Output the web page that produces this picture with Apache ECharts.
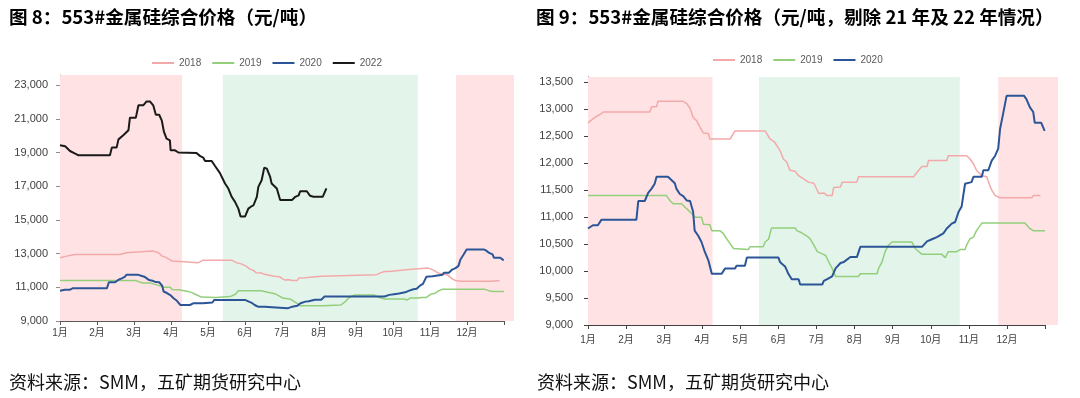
<!DOCTYPE html>
<html>
<head>
<meta charset="utf-8">
<script src="https://cdn.jsdelivr.net/npm/echarts@6/dist/echarts.min.js"></script>
<style>
html,body{margin:0;padding:0;background:#fff}
#main{width:1080px;height:398px}
</style>
</head>
<body>
<div id="main"></div>
<script>
// 553#金属硅综合价格 - 两张图（含 22 年 / 剔除 21、22 年）
// x 坐标为月份位置：0 = 1月初，1 = 2月初 ... 12 = 年末
const months = ['1月','2月','3月','4月','5月','6月','7月','8月','9月','10月','11月','12月'];
const monthTicks = [0,1,2,3,4,5,6,7,8,9,10,11,12];
const yTicksLeft = [9000,11000,13000,15000,17000,19000,21000,23000];
const yTicksRight = [9000,9500,10000,10500,11000,11500,12000,12500,13000,13500];

// [月份位置, 元/吨]
const price2018 = [[0,12750],[0.18,12850],[0.3,12900],[0.4,12950],[1.62,12950],[1.67,13050],[1.8,13050],[1.84,13150],[2.5,13150],[2.6,13100],[2.68,13020],[2.76,12850],[2.85,12790],[2.94,12670],[3.03,12560],[3.16,12550],[3.2,12450],[3.73,12450],[3.86,12600],[4.65,12600],[4.78,12450],[4.9,12390],[5.04,12240],[5.13,12080],[5.22,12020],[5.3,11870],[5.44,11850],[5.53,11770],[5.66,11710],[5.79,11650],[5.93,11630],[6.06,11440],[6.19,11450],[6.28,11400],[6.41,11400],[6.45,11550],[6.63,11560],[6.67,11650],[7.06,11650],[7.1,11750],[8.55,11750],[8.68,11870],[8.77,11940],[8.9,11940],[8.94,12050],[9.42,12050],[9.46,12140],[9.94,12140],[10.03,12080],[10.12,11990],[10.2,11870],[10.34,11770],[10.47,11750],[10.5,11680],[10.6,11500],[10.69,11400],[10.82,11360],[11.65,11360],[11.69,11400],[11.88,11400]];
const price2019 = [[0,11400],[2.06,11400],[2.15,11310],[2.24,11250],[2.46,11250],[2.54,11190],[2.63,11130],[2.72,11070],[2.81,11000],[2.98,11000],[3.03,10870],[3.2,10860],[3.25,10750],[3.46,10750],[3.55,10700],[3.64,10600],[3.73,10510],[3.82,10420],[3.86,10400],[4.21,10400],[4.25,10450],[4.6,10450],[4.65,10540],[4.74,10590],[4.82,10800],[5.44,10800],[5.48,10750],[5.61,10710],[5.75,10650],[5.83,10600],[5.93,10480],[6.02,10360],[6.15,10320],[6.24,10290],[6.32,10170],[6.41,10050],[6.5,9900],[7.1,9900],[7.15,9950],[7.59,9950],[7.63,10050],[7.72,10170],[7.8,10360],[7.89,10480],[7.98,10540],[8.5,10540],[8.59,10420],[8.77,10310],[9.29,10310],[9.38,10250],[9.46,10360],[9.68,10360],[9.77,10400],[9.9,10400],[9.94,10480],[10.03,10600],[10.12,10630],[10.2,10750],[10.34,10890],[11.47,10890],[11.6,10790],[11.69,10750],[12,10750]];
const price2020 = [[0,10790],[0.13,10850],[0.26,10850],[0.35,10950],[1.27,10950],[1.32,11300],[1.49,11300],[1.58,11450],[1.67,11530],[1.75,11620],[1.8,11750],[2.1,11750],[2.19,11690],[2.28,11630],[2.32,11530],[2.41,11430],[2.5,11390],[2.59,11310],[2.68,11300],[2.76,11100],[2.8,10750],[2.89,10660],[2.98,10540],[3.07,10350],[3.16,10200],[3.25,9950],[3.51,9950],[3.6,10050],[3.86,10050],[3.9,10100],[4.12,10100],[4.17,10250],[5,10250],[5.04,10170],[5.18,10080],[5.26,9950],[5.35,9850],[5.53,9850],[5.57,9750],[6.15,9750],[6.19,9820],[6.28,9850],[6.41,9900],[6.5,10050],[6.63,10150],[6.72,10170],[6.89,10260],[7.06,10260],[7.15,10450],[8.77,10450],[8.9,10550],[9.03,10590],[9.16,10630],[9.33,10700],[9.42,10790],[9.55,10880],[9.64,10910],[9.73,11100],[9.81,11200],[9.9,11620],[9.94,11650],[10.07,11650],[10.12,11750],[10.34,11750],[10.38,11870],[10.51,11870],[10.6,12050],[10.69,12140],[10.77,12270],[10.82,12640],[10.9,12920],[10.99,13250],[11.45,13250],[11.51,13190],[11.6,13040],[11.69,12950],[11.73,12750],[11.9,12750],[11.99,12600]];
const price2022 = [[0,19430],[0.14,19370],[0.27,19090],[0.41,18930],[0.5,18830],[1.35,18830],[1.4,19290],[1.53,19290],[1.58,19780],[1.71,20020],[1.85,20320],[1.89,21070],[2.05,21070],[2.12,21800],[2.25,21800],[2.34,22030],[2.43,22030],[2.52,21800],[2.59,21240],[2.68,21240],[2.75,20910],[2.81,20220],[2.88,19820],[2.97,19720],[2.99,19130],[3.11,19130],[3.2,19000],[3.24,18970],[3.69,18970],[3.78,18800],[3.87,18700],[3.92,18500],[4.1,18500],[4.19,18200],[4.32,17790],[4.46,17160],[4.55,16860],[4.64,16370],[4.73,16070],[4.82,15670],[4.88,15200],[5,15200],[5.09,15670],[5.15,15770],[5.23,15870],[5.32,16370],[5.36,16960],[5.45,17350],[5.52,18100],[5.59,18040],[5.68,17550],[5.72,17160],[5.86,16860],[5.95,16180],[6.27,16180],[6.36,16370],[6.45,16460],[6.49,16700],[6.67,16700],[6.76,16430],[6.85,16370],[7.1,16370],[7.2,16870]];

// 阴影区间（月份位置）
const pinkLeft = [[0,3.3],[10.7,12.27]];
const greenLeft = [[4.4,9.67]];
const pinkRight = [[0,3.27],[10.77,12.34]];
const greenRight = [[4.49,9.76]];

const colors = {'2018':'#F3A9A9','2019':'#93CF7B','2020':'#2C5597','2022':'#1A1A1A'};
const PINK = '#FFE3E4', GREEN = '#E3F5EB';
const numFont = "'Liberation Sans', 'Noto Sans CJK SC'";

const chart = echarts.init(document.getElementById('main'), null, {renderer:'canvas'});

function bands(pink, green, yMin, yMax){
    const out = [];
    pink.forEach(r => out.push([{xAxis:r[0], yAxis:yMin, itemStyle:{color:PINK}}, {xAxis:r[1], yAxis:yMax}]));
    green.forEach(r => out.push([{xAxis:r[0], yAxis:yMin, itemStyle:{color:GREEN}}, {xAxis:r[1], yAxis:yMax}]));
    return out;
}

function line(name, data, idx, width){
    return {
        name, type:'line', xAxisIndex:idx, yAxisIndex:idx,
        data, showSymbol:false, symbol:'none',
        lineStyle:{color:colors[name], width},
        itemStyle:{color:colors[name]},
        z:3
    };
}

function xAxisOf(idx, max, lineColor){
    return {
        type:'value', gridIndex:idx, min:0, max,
        axisLine:{show:false},
        axisTick:{show:true, customValues:monthTicks, length:4, lineStyle:{color:lineColor}},
        axisLabel:{customValues:monthTicks.slice(0,12), formatter:v => months[Math.round(v)] || '',
            color:'#404040', fontSize:10, fontFamily:numFont, margin: idx ? 10 : 7},
        splitLine:{show:false}
    };
}

function yAxisOf(idx, min, max, ticks, lineColor, margin){
    return {
        type:'value', gridIndex:idx, min, max,
        axisLine:{show:true, lineStyle:{color:lineColor}},
        axisTick:{show:true, customValues:ticks, length:4, lineStyle:{color:lineColor}},
        axisLabel:{customValues:ticks, formatter:v => v.toLocaleString('en-US'),
            color:'#404040', fontSize:11, fontFamily:numFont, margin},
        splitLine:{show:false}
    };
}

// 底部 x 轴线（只画到 12 月末，阴影可以超出）
function baseLine(yMin, color){
    return {silent:true, symbol:['none','none'], label:{show:false}, animation:false,
        lineStyle:{color, width:1, type:'solid'},
        data:[[{coord:[0,yMin]},{coord:[12,yMin]}]]};
}

const s18L = line('2018', price2018, 0, 1.5);
s18L.markArea = {silent:true, data:bands(pinkLeft, greenLeft, 9000, 23600)};
s18L.markLine = baseLine(9000, '#595959');
const s18R = line('2018', price2018, 1, 1.5);
s18R.markArea = {silent:true, data:bands(pinkRight, greenRight, 9000, 13600)};
s18R.markLine = baseLine(9000, '#404040');

const titleFont = {fontFamily:"'Noto Sans CJK SC'", fontSize:18.6, fontWeight:'bold', color:'#000'};
const srcFont = {fontFamily:"'Noto Sans CJK SC'", fontSize:18, fontWeight:'normal', color:'#111'};

const legendBase = {icon:'rect', itemWidth:22, itemHeight:2, itemGap:11, padding:0,
    textStyle:{color:'#595959', fontSize:10, fontFamily:numFont}};

chart.setOption({
    animation:false,
    backgroundColor:'#fff',
    title:[
        {text:'图 8：553#金属硅综合价格（元/吨）', left:9, top:8, padding:0, textStyle:titleFont},
        {text:'图 9：553#金属硅综合价格（元/吨，剔除 21 年及 22 年情况）', left:536, top:8, padding:0, textStyle:titleFont},
        {text:'资料来源：SMM，五矿期货研究中心', left:9, top:373, padding:0, textStyle:srcFont},
        {text:'资料来源：SMM，五矿期货研究中心', left:537, top:373, padding:0, textStyle:srcFont}
    ],
    legend:[
        Object.assign({data:['2018','2019','2020','2022'], left:152, top:58}, legendBase),
        Object.assign({data:['2018','2019','2020'], left:713, top:55}, legendBase)
    ],
    grid:[
        {left:60, top:75, width:454, height:246},
        {left:588, top:77, width:470, height:248}
    ],
    xAxis:[xAxisOf(0, 12.27, '#595959'), xAxisOf(1, 12.34, '#404040')],
    yAxis:[yAxisOf(0, 9000, 23600, yTicksLeft, '#8c8c8c', 12), yAxisOf(1, 9000, 13600, yTicksRight, '#404040', 15)],
    series:[
        s18L,
        line('2019', price2019, 0, 1.5),
        line('2020', price2020, 0, 2),
        line('2022', price2022, 0, 2),
        s18R,
        line('2019', price2019, 1, 1.5),
        line('2020', price2020, 1, 2)
    ]
});
window.addEventListener('resize', () => chart.resize());
</script>
</body>
</html>
